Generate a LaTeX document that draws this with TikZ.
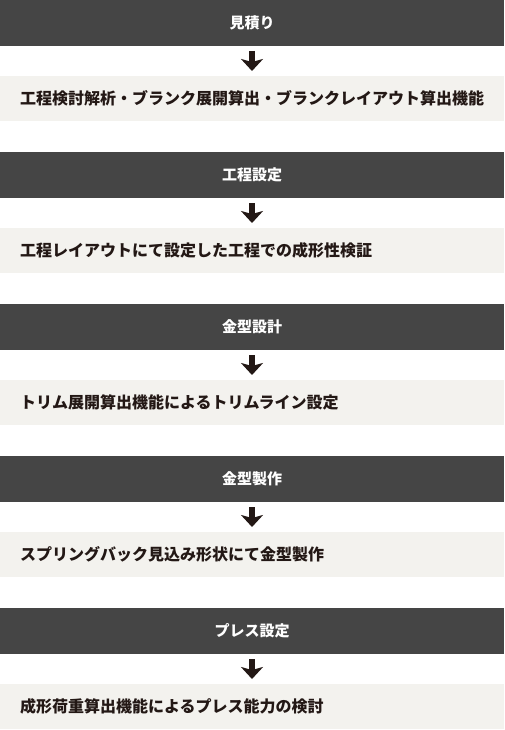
\documentclass[tikz,border=0pt]{standalone}
\usepackage{fontspec}
\newfontfamily\cjk{Noto Sans CJK JP}
\usetikzlibrary{arrows.meta}
\definecolor{grigioscuro}{HTML}{454545}
\definecolor{chiaro}{HTML}{F3F2EE}
\definecolor{nerobruno}{HTML}{231815}
\begin{document}
\begin{tikzpicture}[x=1pt, y=-1pt,
    barra/.style={fill=grigioscuro, text=white, minimum width=504pt, minimum height=46pt, inner sep=0pt, outer sep=0pt, font=\cjk\bfseries\fontsize{15}{15}\selectfont},
    casella/.style={fill=chiaro, text=nerobruno, text width=464pt, inner xsep=20pt, inner ysep=0pt, minimum height=45pt, outer sep=0pt, align=left, font=\cjk\bfseries\fontsize{16}{16}\selectfont},
    freccia/.style={draw=nerobruno, line width=6pt, shorten <=5pt, shorten >=5pt, -{Stealth[length=12pt, width=22pt, inset=3pt]}}]
        \useasboundingbox (0,0) rectangle (504,730);
        \node[barra] (B1) at (252, 23) {見積り};
        \node[casella] (C1) at (252, 98.5) {工程検討解析・ブランク展開算出・ブランクレイアウト算出機能};
        \node[barra] (B2) at (252, 175) {工程設定};
        \node[casella] (C2) at (252, 250.5) {工程レイアウトにて設定した工程での成形性検証};
        \node[barra] (B3) at (252, 327) {金型設計};
        \node[casella] (C3) at (252, 402.5) {トリム展開算出機能によるトリムライン設定};
        \node[barra] (B4) at (252, 479) {金型製作};
        \node[casella] (C4) at (252, 554.5) {スプリングバック見込み形状にて金型製作};
        \node[barra] (B5) at (252, 631) {プレス設定};
        \node[casella] (C5) at (252, 706.5) {成形荷重算出機能によるプレス能力の検討};
        
        \draw[freccia] (B1) -- (C1);
        \draw[freccia] (B2) -- (C2);
        \draw[freccia] (B3) -- (C3);
        \draw[freccia] (B4) -- (C4);
        \draw[freccia] (B5) -- (C5);
    \end{tikzpicture}
\end{document}
